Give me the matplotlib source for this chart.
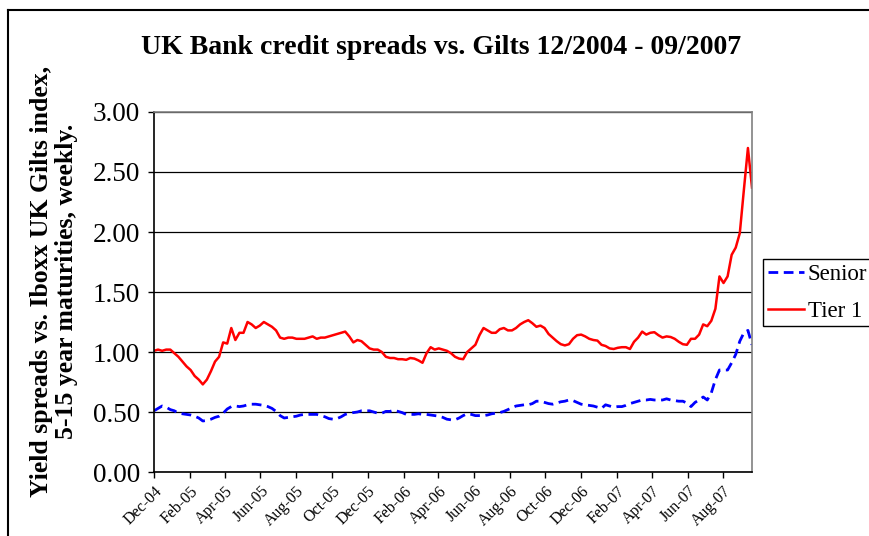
import matplotlib
matplotlib.use("Agg")
import matplotlib.pyplot as plt
from matplotlib.lines import Line2D
import pandas as pd

start_date = "2004-12-01"
end_date = "2007-09-19"

tier1 = [1.01, 1.02, 1.01, 1.02, 1.02, 0.99, 0.96, 0.92, 0.88, 0.85,
         0.80, 0.77, 0.73, 0.77, 0.84, 0.92, 0.96, 1.08, 1.07, 1.20,
         1.10, 1.16, 1.16, 1.25, 1.23, 1.20, 1.22, 1.25, 1.23, 1.21,
         1.18, 1.12, 1.11, 1.12, 1.12, 1.11, 1.11, 1.11, 1.12, 1.13,
         1.11, 1.12, 1.12, 1.13, 1.14, 1.15, 1.16, 1.17, 1.13, 1.08,
         1.10, 1.09, 1.06, 1.03, 1.02, 1.02, 1.00, 0.96, 0.95, 0.95,
         0.94, 0.94, 0.935, 0.95, 0.945, 0.93, 0.91, 0.99, 1.04, 1.02,
         1.03, 1.02, 1.01, 0.99, 0.96, 0.945, 0.94, 1.00, 1.03, 1.06,
         1.14, 1.20, 1.18, 1.16, 1.16, 1.19, 1.20, 1.18, 1.18, 1.20,
         1.23, 1.25, 1.265, 1.24, 1.21, 1.22, 1.20, 1.15, 1.12, 1.09,
         1.065, 1.055, 1.065, 1.11, 1.14, 1.145, 1.13, 1.11, 1.10, 1.095,
         1.06, 1.05, 1.03, 1.025, 1.035, 1.04, 1.04, 1.025, 1.085, 1.12,
         1.17, 1.145, 1.16, 1.165, 1.14, 1.12, 1.13, 1.125, 1.11, 1.085,
         1.065, 1.06, 1.11, 1.11, 1.145, 1.23, 1.215, 1.26, 1.36, 1.63,
         1.575, 1.63, 1.81, 1.87, 1.99, 2.35, 2.70, 2.37]

senior = [0.51, 0.53, 0.55, 0.54, 0.52, 0.51, 0.49, 0.485, 0.48, 0.475,
          0.465, 0.45, 0.425, 0.43, 0.44, 0.455, 0.465, 0.49, 0.525, 0.545,
          0.55, 0.545, 0.55, 0.56, 0.565, 0.565, 0.56, 0.555, 0.545, 0.53,
          0.505, 0.47, 0.45, 0.455, 0.46, 0.465, 0.475, 0.48, 0.48, 0.48,
          0.48, 0.47, 0.46, 0.445, 0.44, 0.445, 0.46, 0.48, 0.49, 0.495,
          0.50, 0.51, 0.51, 0.51, 0.50, 0.49, 0.49, 0.505, 0.505, 0.515,
          0.505, 0.495, 0.48, 0.48, 0.48, 0.485, 0.48, 0.48, 0.475, 0.47,
          0.465, 0.455, 0.44, 0.435, 0.435, 0.45, 0.47, 0.485, 0.48, 0.47,
          0.47, 0.47, 0.475, 0.485, 0.49, 0.495, 0.505, 0.52, 0.535, 0.55,
          0.555, 0.56, 0.56, 0.57, 0.59, 0.59, 0.58, 0.57, 0.565, 0.575,
          0.585, 0.59, 0.60, 0.595, 0.58, 0.565, 0.56, 0.555, 0.55, 0.54,
          0.53, 0.56, 0.55, 0.54, 0.545, 0.545, 0.555, 0.57, 0.58, 0.59,
          0.60, 0.60, 0.605, 0.60, 0.60, 0.60, 0.61, 0.60, 0.595, 0.59,
          0.59, 0.575, 0.545, 0.58, 0.60, 0.625, 0.60, 0.66, 0.77, 0.85,
          0.85, 0.85, 0.91, 0.98, 1.09, 1.16, 1.18, 1.06]

y_ticks = [0.0, 0.5, 1.0, 1.5, 2.0, 2.5, 3.0]
title = "UK Bank credit spreads vs. Gilts 12/2004 - 09/2007"
ylabel = "Yield spreads vs. Iboxx UK Gilts index,\n5-15 year maturities, weekly."

dates = pd.date_range(start=start_date, end=end_date, periods=len(tier1))
serif = ["Liberation Serif", "DejaVu Serif"]

W, H = 869, 536
fig = plt.figure(figsize=(W / 100, H / 100), dpi=100)
ax = fig.add_axes([154 / W, 1 - 472 / H, (752 - 154) / W, (472 - 112) / H])

ax.plot(dates, senior, color="#0000FF", lw=2.0, dashes=(3.5, 2.0), label="Senior")
ax.plot(dates, tier1, color="#FF0000", lw=1.8, label="Tier 1")

ax.set_xlim(dates[0], dates[-1])
ax.set_ylim(0, 3)
ax.set_yticks(y_ticks)
ax.set_yticklabels([f"{v:.2f}" for v in y_ticks], fontfamily=serif, fontsize=19.5)
ax.yaxis.grid(True, color="#000000", lw=0.9)
ax.set_axisbelow(True)

xt = pd.date_range("2004-12-01", "2007-08-01", freq="2MS")
ax.set_xticks(xt)
ax.set_xticklabels([d.strftime("%b-%y") for d in xt], rotation=45, ha="right",
                   rotation_mode="anchor", fontfamily=serif, fontsize=11.5)
ax.tick_params(axis="x", direction="out", length=4, width=1, pad=4)
ax.tick_params(axis="y", direction="out", length=4, width=1, pad=6)

for s in ["top", "right"]:
    ax.spines[s].set_color("#808080")
    ax.spines[s].set_linewidth(1.2)
for s in ["left", "bottom"]:
    ax.spines[s].set_color("#000000")
    ax.spines[s].set_linewidth(1.2)

fig.text(441 / W, 1 - 47 / H, title, ha="center", va="center",
         fontfamily=serif, fontweight="bold", fontsize=20)
fig.text(54 / W, 1 - 281 / H, ylabel, ha="center", va="center", rotation=90,
         fontfamily=serif, fontweight="bold", fontsize=18.5, linespacing=1.1,
         multialignment="center")

leg = fig.legend(loc="upper left", bbox_to_anchor=(763 / W, 1 - 259 / H),
                 prop={"family": serif, "size": 16.5}, frameon=True, fancybox=False,
                 edgecolor="#000000", framealpha=1, handlelength=1.6,
                 borderpad=0.2, labelspacing=0.7, handletextpad=0.15,
                 borderaxespad=0)
leg.get_frame().set_linewidth(1.0)

fig.add_artist(Line2D([8 / W, 1.0], [1 - 10 / H, 1 - 10 / H], color="black", lw=1.5,
                      transform=fig.transFigure))
fig.add_artist(Line2D([8 / W, 8 / W], [1 - 10 / H, 0.0], color="black", lw=1.5,
                      transform=fig.transFigure))

fig.savefig("out.png", dpi=100)
